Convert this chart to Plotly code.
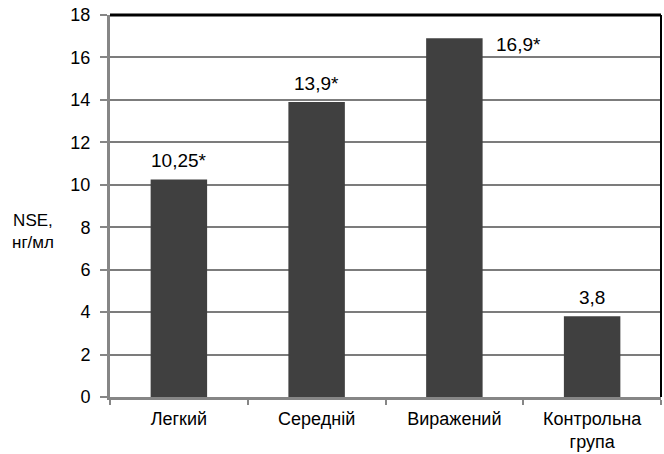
import plotly.graph_objects as go

categories = ["Легкий", "Середній", "Виражений", "Контрольна<br>група"]
values = [10.25, 13.9, 16.9, 3.8]
value_labels = ["10,25*", "13,9*", "16,9*", "3,8"]
y_ticks = [0, 2, 4, 6, 8, 10, 12, 14, 16, 18]

FONT = "Liberation Sans, Arial, sans-serif"
GRID = "#868686"
FS = 19

fig = go.Figure()
fig.add_trace(go.Bar(
    x=categories, y=values,
    marker=dict(color="#404040", line=dict(width=0)),
    width=0.41,
    showlegend=False,
    hoverinfo="skip",
))

# value labels (the tallest bar has its label beside it)
for c, v, t in zip(categories, values, value_labels):
    if v == max(values):
        fig.add_annotation(x=c, y=v, text=t, showarrow=False,
                           xanchor="center", yanchor="middle",
                           xshift=64, yshift=-6,
                           font=dict(family=FONT, size=FS, color="#000"))
    else:
        fig.add_annotation(x=c, y=v, text=t, showarrow=False,
                           xanchor="center", yanchor="bottom",
                           yshift=6,
                           font=dict(family=FONT, size=FS, color="#000"))

# y-axis title (horizontal)
fig.add_annotation(xref="paper", yref="paper", x=-0.14, y=0.432,
                   text="NSE,<br>нг/мл", showarrow=False,
                   xanchor="center", yanchor="middle", align="center",
                   font=dict(family=FONT, size=17, color="#000"))

# top and right frame lines
fig.add_shape(type="line", xref="paper", yref="paper", x0=0, x1=1, y0=1, y1=1,
              line=dict(color="#000", width=3))
fig.add_shape(type="line", xref="paper", yref="paper", x0=1, x1=1, y0=0, y1=1,
              line=dict(color="#000", width=2))

fig.update_layout(
    width=664, height=454,
    margin=dict(l=110, r=3, t=15, b=57),
    paper_bgcolor="white", plot_bgcolor="white",
    font=dict(family=FONT, size=FS, color="#000"),
    bargap=0.59,
    xaxis=dict(
        type="category", range=[-0.5, 3.5], automargin=False,
        showline=True, linecolor=GRID, linewidth=3,
        ticks="outside", tickson="boundaries", ticklen=5,
        tickcolor=GRID, tickwidth=2,
        showgrid=False, zeroline=False,
        ticklabelstandoff=3,
        tickfont=dict(family=FONT, size=18, color="#000"),
    ),
    yaxis=dict(
        range=[0, 18], tickmode="array", tickvals=y_ticks, automargin=False,
        showline=True, linecolor=GRID, linewidth=3,
        ticks="outside", ticklen=7, tickcolor=GRID, tickwidth=2,
        showgrid=True, gridcolor="#7c7c7c", gridwidth=2, zeroline=False,
        ticklabelstandoff=6,
        tickfont=dict(family=FONT, size=18, color="#000"),
    ),
)

fig.write_html("out.html")
